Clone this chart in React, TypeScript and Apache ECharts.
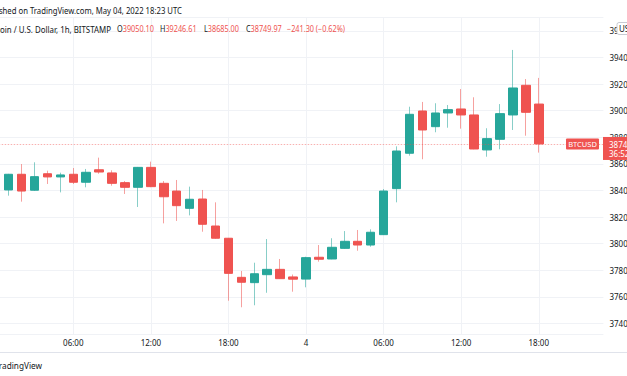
import React, { useEffect, useRef } from "react";
import * as echarts from "echarts";

// Hourly categories, May 3 00:00 → May 4 23:00 (UTC)
const categories = [
  "05-03 00:00", "05-03 01:00", "05-03 02:00", "05-03 03:00", "05-03 04:00", "05-03 05:00",
  "05-03 06:00", "05-03 07:00", "05-03 08:00", "05-03 09:00", "05-03 10:00", "05-03 11:00",
  "05-03 12:00", "05-03 13:00", "05-03 14:00", "05-03 15:00", "05-03 16:00", "05-03 17:00",
  "05-03 18:00", "05-03 19:00", "05-03 20:00", "05-03 21:00", "05-03 22:00", "05-03 23:00",
  "05-04 00:00", "05-04 01:00", "05-04 02:00", "05-04 03:00", "05-04 04:00", "05-04 05:00",
  "05-04 06:00", "05-04 07:00", "05-04 08:00", "05-04 09:00", "05-04 10:00", "05-04 11:00",
  "05-04 12:00", "05-04 13:00", "05-04 14:00", "05-04 15:00", "05-04 16:00", "05-04 17:00",
  "05-04 18:00", "05-04 19:00", "05-04 20:00", "05-04 21:00", "05-04 22:00", "05-04 23:00",
];

const opens = [
  38509, 38404, 38522, 38402, 38526, 38502, 38522, 38462, 38556, 38532, 38459, 38424,
  38574, 38454, 38396, 38266, 38336, 38133, 38041, 37747, 37707, 37767, 37807, 37750,
  37734, 37898, 37885, 37965, 38018, 37990, 38068, 38414, 38680, 38998, 38880, 38983,
  39013, 38968, 38705, 38785, 38968, 39191, 39050.1,
];
const closes = [
  38404, 38522, 38396, 38504, 38502, 38517, 38462, 38537, 38539, 38454, 38424, 38574,
  38429, 38353, 38286, 38334, 38146, 38041, 37777, 37710, 37774, 37807, 37737, 37733,
  37895, 37883, 37973, 38018, 37990, 38086, 38396, 38697, 38973, 38855, 38983, 39008,
  38968, 38712, 38790, 38978, 39171, 38988, 38749.97,
];
const lows = [
  38380, 38361, 38316, 38398, 38449, 38386, 38449, 38424, 38526, 38436, 38374, 38276,
  38425, 38153, 38171, 38213, 38090, 38038, 37571, 37522, 37537, 37631, 37735, 37639,
  37672, 37865, 37883, 37963, 37947, 37977, 38066, 38311, 38662, 38635, 38838, 38872,
  38865, 38710, 38654, 38710, 38855, 38812, 38685.0,
];
const highs = [
  38540, 38525, 38599, 38612, 38549, 38534, 38569, 38562, 38647, 38552, 38471, 38577,
  38617, 38471, 38479, 38429, 38404, 38311, 38043, 37795, 37857, 38035, 37885, 37768,
  37902, 37990, 38041, 38095, 38103, 38108, 38411, 38732, 39030, 39066, 39056, 39043,
  39163, 39101, 38868, 39050, 39457, 39238, 39246.61,
];

// Header legend entries: [key, value]
const legendKeys = ["O", "H", "L", "C"];
const legendValues = ["39050.10", "39246.61", "38685.00", "38749.97"];
const changeText = "−241.30 (−0.62%)";

const priceMin = 37320.9;
const priceMax = 39704.7;

const UP = "#26a69a";
const DOWN = "#ef5350";
const UP_WICK = "rgba(38,166,154,0.55)";
const DOWN_WICK = "rgba(239,83,80,0.55)";
const TEXT = "#131722";
const GRID = "#f0f2f6";
const FONT = "Noto Sans";

export default function App() {
  const ref = useRef<HTMLDivElement>(null);

  useEffect(() => {
    if (!ref.current) return;
    const chart = echarts.init(ref.current, undefined, { renderer: "svg" });
    const n = opens.length;
    const wickData = opens.map((o, i) => [o, closes[i], lows[i], highs[i]]);
    const bodyData = opens.map((o, i) => [
      o,
      closes[i],
      Math.min(o, closes[i]),
      Math.max(o, closes[i]),
    ]);
    const lastClose = closes[n - 1];
    const lastOpen = opens[n - 1];

    const hourOf = (c: string) => parseInt(c.slice(6, 8), 10);

    chart.setOption({
      animation: false,
      textStyle: { fontFamily: FONT },
      grid: {
        left: -4.3,
        right: 23.6,
        top: 17,
        bottom: 42,
        containLabel: false,
        outerBoundsMode: "none",
      },
      xAxis: {
        type: "category",
        data: categories,
        boundaryGap: false,
        axisLine: { show: false },
        axisTick: { show: false },
        axisLabel: {
          color: TEXT,
          fontSize: 8,
          fontFamily: FONT,
          margin: 4,
          interval: (i: number, v: string) => i > 0 && hourOf(v) % 6 === 0,
          formatter: (v: string) =>
            v.slice(6) === "00:00" ? String(parseInt(v.slice(3, 5), 10)) : v.slice(6),
        },
        splitLine: {
          show: true,
          interval: (i: number, v: string) => i > 0 && hourOf(v) % 6 === 0,
          lineStyle: { color: GRID, width: 1 },
        },
      },
      yAxis: {
        type: "value",
        position: "right",
        min: priceMin,
        max: priceMax,
        splitNumber: 12,
        scale: true,
        axisLine: { show: false },
        axisTick: { show: false },
        axisLabel: {
          color: TEXT,
          fontSize: 8,
          fontFamily: FONT,
          margin: 6,
          showMinLabel: false,
          showMaxLabel: false,
          formatter: (v: number) => String(Math.round(v)),
        },
        splitLine: { show: true, lineStyle: { color: GRID, width: 1 } },
      },
      series: [
        {
          type: "candlestick",
          name: "wick",
          data: wickData,
          barWidth: 1,
          silent: true,
          itemStyle: {
            color: UP_WICK,
            color0: DOWN_WICK,
            borderColor: UP_WICK,
            borderColor0: DOWN_WICK,
            borderWidth: 1,
          },
        },
        {
          type: "candlestick",
          name: "BTCUSD",
          data: bodyData,
          barWidth: 9,
          silent: true,
          itemStyle: {
            color: UP,
            color0: DOWN,
            borderColor: UP,
            borderColor0: DOWN,
            borderWidth: 1,
          },
          markLine: {
            silent: true,
            symbol: ["none", "none"],
            label: { show: false },
            lineStyle: { color: "rgba(239,83,80,0.45)", type: [1.5, 1.5], width: 1 },
            data: [{ yAxis: lastClose }],
          },
        },
      ],
    });

    const yLast = chart.convertToPixel({ yAxisIndex: 0 }, lastClose) as number;
    const lastColor = lastClose < lastOpen ? DOWN : UP;
    const legendX = [117, 160, 204, 246];
    const HF = `8.5px "${FONT}"`;

    const legend = legendKeys.map((k, i) => ({
      type: "text",
      x: legendX[i],
      y: 29,
      scaleX: 0.86,
      style: {
        text: `{k|${k}}{v|${legendValues[i]}}`,
        font: HF,
        verticalAlign: "middle",
        rich: {
          k: { fill: TEXT, font: HF },
          v: { fill: DOWN, font: HF },
        },
      },
    }));

    chart.setOption({
      graphic: [
        {
          type: "text",
          x: 182,
          y: 10,
          scaleX: 0.91,
          style: {
            text: "Published on TradingView.com, May 04, 2022 18:23 UTC",
            fill: TEXT,
            font: HF,
            align: "right",
            verticalAlign: "middle",
          },
        },
        {
          type: "text",
          x: 111,
          y: 29,
          scaleX: 0.93,
          style: {
            text: "Bitcoin / U.S. Dollar, 1h, BITSTAMP",
            fill: TEXT,
            font: HF,
            align: "right",
            verticalAlign: "middle",
          },
        },
        ...legend,
        {
          type: "text",
          x: 287,
          y: 29,
          scaleX: 0.86,
          style: {
            text: changeText,
            fill: DOWN,
            font: HF,
            verticalAlign: "middle",
          },
        },
        {
          type: "line",
          shape: { x1: 0, y1: 352.5, x2: 627, y2: 352.5 },
          style: { stroke: "#e0e3eb", lineWidth: 1 },
          silent: true,
        },
        {
          type: "text",
          x: 42,
          y: 365,
          scaleX: 0.97,
          style: {
            text: "TradingView",
            fill: TEXT,
            font: HF,
            align: "right",
            verticalAlign: "middle",
          },
        },
        {
          type: "rect",
          z: 100,
          shape: { x: 617, y: 22.5, width: 24, height: 12, r: 2 },
          style: { fill: "#ffffff", stroke: "#c8cbd3", lineWidth: 1 },
        },
        {
          type: "text",
          z: 101,
          x: 619,
          y: 28.5,
          style: { text: "USD", fill: TEXT, font: `8px "${FONT}"`, verticalAlign: "middle" },
        },
        {
          type: "rect",
          z: 100,
          shape: { x: 566, y: yLast - 5.5, width: 33, height: 11, r: 1 },
          style: { fill: lastColor },
        },
        {
          type: "text",
          z: 101,
          x: 582.5,
          y: yLast,
          style: {
            text: "BTCUSD",
            fill: "#ffffff",
            font: `7.5px "${FONT}"`,
            align: "center",
            verticalAlign: "middle",
          },
        },
        {
          type: "rect",
          z: 100,
          shape: { x: 603, y: yLast - 7, width: 30, height: 23 },
          style: { fill: lastColor },
        },
        {
          type: "text",
          z: 101,
          x: 609,
          y: yLast + 0.5,
          style: {
            text: lastClose.toFixed(2),
            fill: "#ffffff",
            font: `8px "${FONT}"`,
            verticalAlign: "middle",
          },
        },
        {
          type: "text",
          z: 101,
          x: 609,
          y: yLast + 10,
          style: {
            text: "36:52",
            fill: "#ffffff",
            font: `8px "${FONT}"`,
            verticalAlign: "middle",
          },
        },
      ],
    });

    return () => chart.dispose();
  }, []);

  return (
    <div
      ref={ref}
      style={{ position: "fixed", left: 0, top: 0, width: 627, height: 376, background: "#ffffff" }}
    />
  );
}
